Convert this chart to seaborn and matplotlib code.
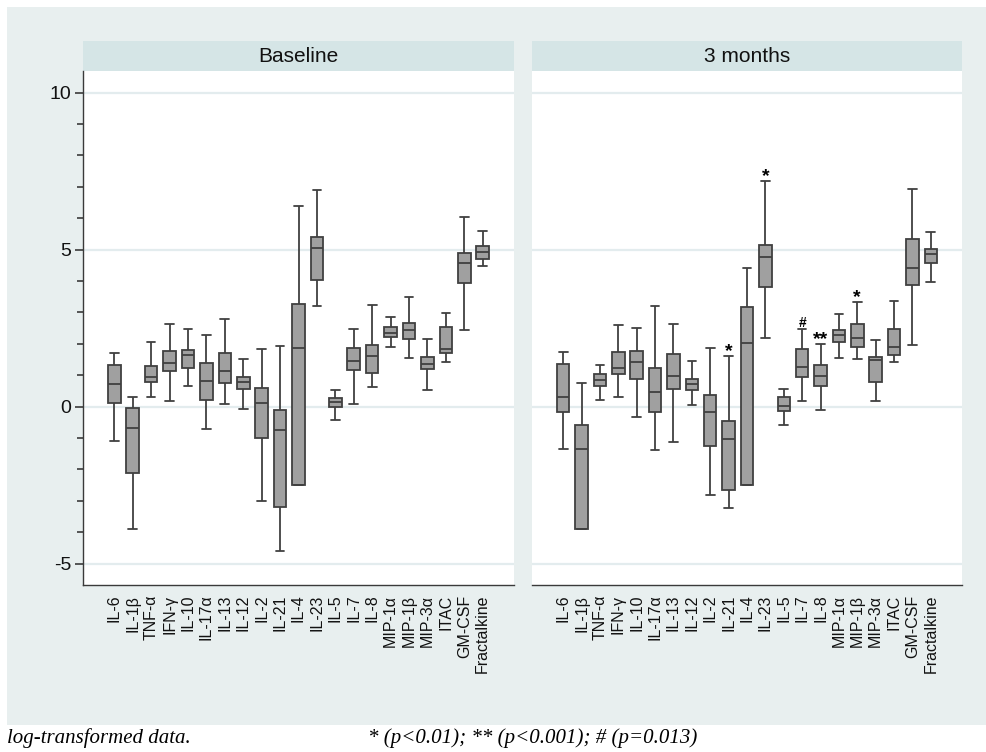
import numpy as np
import pandas as pd
import matplotlib
matplotlib.use("Agg")
import matplotlib.pyplot as plt
from matplotlib.patches import Rectangle
from matplotlib.ticker import FixedLocator, FuncFormatter
import seaborn as sns

# ---- data: five-number summaries of log-transformed cytokine levels ----
cytokines = ["IL-6", "IL-1β", "TNF-α", "IFN-γ", "IL-10", "IL-17α", "IL-13",
             "IL-12", "IL-2", "IL-21", "IL-4", "IL-23", "IL-5", "IL-7", "IL-8",
             "MIP-1α", "MIP-1β", "MIP-3α", "ITAC", "GM-CSF", "Fractalkine"]
periods = ["Baseline", "3 months"]

base_low = [-1.09, -3.91, 0.32, 0.19, 0.67, -0.72, 0.07, -0.06, -3.00, -4.61, -2.49,
            3.21, -0.43, 0.10, 0.62, 1.89, 1.54, 0.52, 1.41, 2.45, 4.47]
base_q1 = [0.13, -2.11, 0.77, 1.12, 1.23, 0.21, 0.74, 0.57, -0.99, -3.20, -2.49,
           4.04, 0.00, 1.16, 1.07, 2.23, 2.15, 1.19, 1.71, 3.94, 4.71]
base_med = [0.72, -0.67, 0.94, 1.39, 1.63, 0.82, 1.12, 0.77, 0.13, -0.73, 1.88,
            5.05, 0.14, 1.46, 1.62, 2.36, 2.43, 1.36, 1.83, 4.57, 4.93]
base_q3 = [1.33, -0.05, 1.31, 1.78, 1.82, 1.38, 1.72, 0.96, 0.59, -0.10, 3.28,
           5.41, 0.28, 1.88, 1.97, 2.54, 2.67, 1.57, 2.55, 4.88, 5.13]
base_high = [1.72, 0.31, 2.07, 2.64, 2.46, 2.29, 2.80, 1.53, 1.84, 1.93, 6.40,
             6.90, 0.54, 2.46, 3.24, 2.85, 3.48, 2.15, 2.97, 6.05, 5.59]

m3_low = [-1.35, -3.89, 0.20, 0.31, -0.34, -1.39, -1.12, 0.05, -2.82, -3.22, -2.50,
          2.19, -0.60, 0.17, -0.10, 1.54, 1.53, 0.18, 1.43, 1.95, 3.98]
m3_q1 = [-0.18, -3.89, 0.66, 1.03, 0.88, -0.18, 0.57, 0.52, -1.24, -2.65, -2.50,
         3.80, -0.14, 0.96, 0.65, 2.05, 1.89, 0.77, 1.65, 3.86, 4.57]
m3_med = [0.31, -1.35, 0.84, 1.24, 1.43, 0.47, 0.99, 0.71, -0.18, -1.02, 2.04,
          4.78, 0.03, 1.26, 0.99, 2.27, 2.20, 1.47, 1.91, 4.40, 4.85]
m3_q3 = [1.36, -0.57, 1.04, 1.73, 1.76, 1.24, 1.69, 0.87, 0.38, -0.45, 3.17,
         5.14, 0.31, 1.83, 1.33, 2.43, 2.64, 1.57, 2.46, 5.35, 5.03]
m3_high = [1.73, 0.76, 1.34, 2.59, 2.49, 3.22, 2.64, 1.46, 1.86, 1.60, 4.43,
           7.18, 0.57, 2.48, 1.98, 2.95, 3.33, 2.13, 3.38, 6.94, 5.57]

# significance marks at 3 months
sig_names = ["IL-21", "IL-23", "IL-7", "IL-8", "MIP-1β"]
sig_marks = ["*", "*", "#", "**", "*"]

y_labelled = [-5, 0, 5, 10]
y_all_ticks = list(range(-5, 11))
y_range = (-5.68, 10.69)

summaries = {
    "Baseline": [base_low, base_q1, base_med, base_q3, base_high],
    "3 months": [m3_low, m3_q1, m3_med, m3_q3, m3_high],
}

# long-format table: min, Q1, median, Q3, max per cytokine reproduce each box exactly
rows = []
for period, stats in summaries.items():
    for i, name in enumerate(cytokines):
        for s in stats:
            rows.append({"period": period, "cytokine": name, "value": s[i]})
df = pd.DataFrame(rows)

# ---- styling ----
sns.set_style("white")
plt.rcParams["font.family"] = ["Liberation Sans", "DejaVu Sans"]
plt.rcParams["axes.unicode_minus"] = False

W, H = 987, 752
fig = plt.figure(figsize=(W / 100, H / 100), dpi=100)
fig.patch.set_facecolor("white")

BG = "#E8EFEF"
STRIP = "#D5E5E6"
GRID = "#E3ECEE"
EDGE = "#404040"
FILL = "#A0A0A0"
AXIS = "#3A3A3A"


def frac_rect(x0, y0, x1, y1):
    return [x0 / W, 1 - y1 / H, (x1 - x0) / W, (y1 - y0) / H]


fig.patches.append(Rectangle((7 / W, 1 - 725 / H), (W - 7) / W, (725 - 7) / H,
                             transform=fig.transFigure, facecolor=BG,
                             edgecolor="none", zorder=-10))

panels = {"Baseline": (83, 514), "3 months": (532, 962)}
top, bottom, strip_top = 71, 585, 41

for k, period in enumerate(periods):
    x0, x1 = panels[period]
    # strip header
    fig.patches.append(Rectangle((x0 / W, 1 - top / H), (x1 - x0) / W,
                                 (top - strip_top) / H, transform=fig.transFigure,
                                 facecolor=STRIP, edgecolor="none", zorder=-5))
    fig.text((x0 + x1) / 2 / W, 1 - (strip_top + top) / 2 / H, period,
             ha="center", va="center", fontsize=15, color="#111111")

    ax = fig.add_axes(frac_rect(x0, top, x1, bottom))
    ax.set_facecolor("white")
    sub = df[df["period"] == period]
    sns.boxplot(data=sub, x="cytokine", y="value", order=cytokines, ax=ax,
                whis=(0, 100), width=0.68, color=FILL, saturation=1,
                linecolor=EDGE, linewidth=1.3, showfliers=False,
                capwidths=0.47)

    ax.set_xlim(-1.7, 21.7)
    ax.set_ylim(*y_range)
    ax.set_xlabel("")
    ax.set_ylabel("")
    # every unit gets a tick; only multiples of five are labelled and gridded
    ax.yaxis.set_major_locator(FixedLocator(y_all_ticks))
    ax.yaxis.set_major_formatter(
        FuncFormatter(lambda v, pos: f"{v:g}" if round(v) in y_labelled else ""))
    ax.yaxis.grid(False)
    for yv in y_labelled:
        ax.axhline(yv, color=GRID, linewidth=1.6, zorder=0)
    ax.set_axisbelow(True)

    ax.tick_params(axis="x", length=0, pad=7, labelsize=11.5, labelrotation=90,
                   colors="#111111")
    for lab in ax.get_xticklabels():
        lab.set_va("top")
        lab.set_ha("center")

    for side in ["top", "right"]:
        ax.spines[side].set_visible(False)
    ax.spines["bottom"].set_color(AXIS)
    ax.spines["bottom"].set_linewidth(1.0)

    if k == 0:
        ax.spines["left"].set_color(AXIS)
        ax.spines["left"].set_linewidth(1.0)
        ax.tick_params(axis="y", which="major", left=True, length=4.5, width=1.2,
                       color=AXIS, labelsize=14, pad=4, labelcolor="#111111",
                       direction="out")
        for tick, yv in zip(ax.yaxis.get_major_ticks(), y_all_ticks):
            if yv in y_labelled:
                tick.tick1line.set_markersize(6)
    else:
        ax.spines["left"].set_visible(False)
        ax.tick_params(axis="y", which="both", length=0, labelleft=False)
        highs = dict(zip(cytokines, m3_high))
        for name, mark in zip(sig_names, sig_marks):
            xi = cytokines.index(name)
            size = 10 if mark == "#" else 14
            dy = 1.5 if mark == "#" else 0
            ax.annotate(mark, xy=(xi, highs[name]), xytext=(0, dy),
                        textcoords="offset points", ha="center", va="baseline",
                        fontsize=size, fontweight="bold", color="black")

# footnotes
fig.text(7 / W, 1 - 743 / H, "log-transformed data.", family="Liberation Serif",
         style="italic", fontsize=15, va="baseline", color="black")
fig.text(368 / W, 1 - 743 / H, "* (p<0.01); ** (p<0.001); # (p=0.013)",
         family="Liberation Serif", style="italic", fontsize=15, va="baseline",
         color="black")

fig.savefig("out.png", dpi=100)
